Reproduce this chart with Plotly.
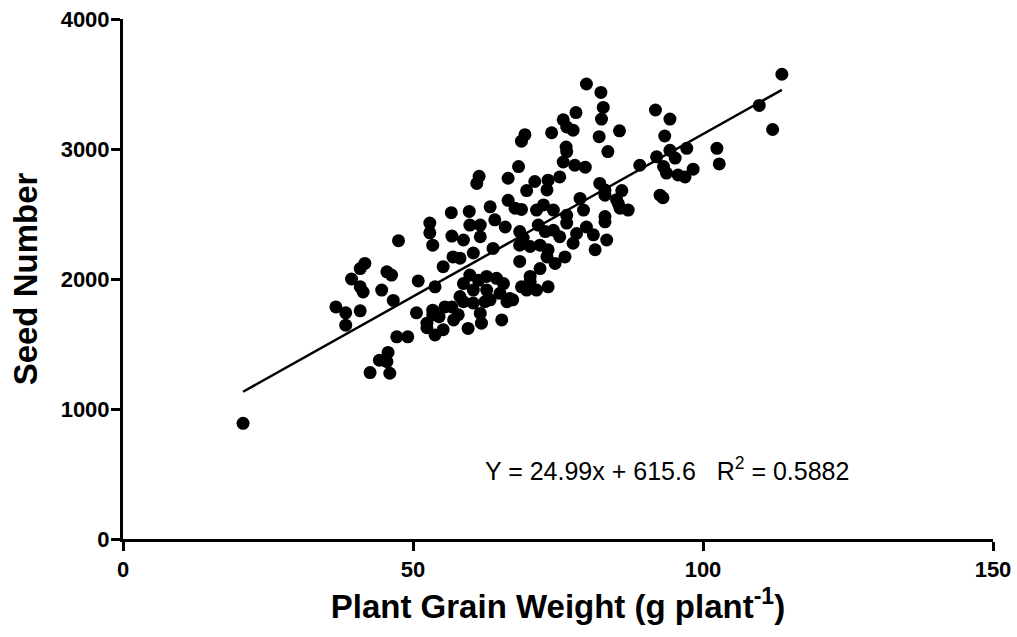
import plotly.graph_objects as go

# Plant grain weight (g plant^-1) and seed number
grain_weight = [
    20.7, 47.5, 52.9, 52.9, 53.4, 41.7, 40.9, 45.5, 46.3, 39.4,
    40.9, 41.4, 44.6, 50.9, 53.8, 46.6, 36.7, 38.4, 40.9, 38.4,
    50.6, 53.4, 52.4, 53.8, 47.2, 49.1, 45.7, 44.2, 45.5, 42.6,
    46.0, 53.4, 54.5, 55.2, 56.7, 57.8, 58.7, 59.5, 61.6, 61.8,
    62.4, 65.3, 66.2, 67.2, 57.0, 52.4, 76.5, 83.6, 68.2, 61.4,
    61.0, 66.4, 75.9, 77.9, 79.7, 75.3, 73.3, 71.0, 69.6, 73.1,
    82.2, 83.1, 85.1, 66.4, 67.6, 68.7, 71.3, 72.5, 74.2, 78.8,
    79.4, 76.5, 63.3, 56.6, 59.7, 56.7, 58.7, 59.8, 61.6, 61.6,
    64.1, 65.9, 63.8, 60.4, 56.9, 58.1, 55.2, 68.4, 69.0, 70.2,
    68.4, 68.4, 71.6, 72.8, 74.2, 75.3, 71.9, 73.3, 73.1, 74.5,
    76.2, 78.2, 79.9, 81.1, 83.1, 83.4, 81.4, 76.5, 77.6, 59.8,
    61.3, 62.7, 64.4, 65.6, 58.7, 60.4, 62.7, 65.0, 66.7, 58.1,
    60.4, 63.3, 68.7, 70.2, 71.9, 69.6, 71.3, 73.3, 70.2, 55.5,
    79.9, 82.4, 82.8, 82.5, 82.1, 85.6, 78.1, 75.9, 77.6, 76.5,
    73.9, 69.3, 68.7, 76.4, 91.8, 94.3, 93.4, 97.2, 102.4, 102.8,
    89.1, 92.0, 94.3, 95.2, 93.2, 93.7, 95.7, 96.9, 98.3, 92.6,
    83.1, 86.0, 85.4, 87.1, 83.1, 109.7, 112.0, 113.6, 85.7, 93.1,
]
seed_number = [
    890, 2295, 2430, 2355, 2260, 2120, 2080, 2055, 2030, 2000,
    1940, 1900, 1915, 1985, 1940, 1835, 1785, 1740, 1755, 1645,
    1740, 1725, 1625, 1570, 1555, 1555, 1435, 1375, 1365, 1280,
    1275, 1760, 1710, 1610, 1785, 1725, 1825, 1620, 1735, 1660,
    1825, 1685, 1825, 1840, 1685, 1660, 2980, 2980, 2865, 2790,
    2735, 2775, 2900, 2875, 2860, 2785, 2760, 2750, 2680, 2685,
    2735, 2685, 2610, 2605, 2545, 2535, 2530, 2570, 2530, 2620,
    2530, 2490, 2555, 2510, 2520, 2330, 2300, 2415, 2415, 2325,
    2455, 2400, 2235, 2200, 2170, 2160, 2095, 2365, 2315, 2250,
    2260, 2135, 2415, 2365, 2375, 2325, 2260, 2225, 2170, 2120,
    2170, 2350, 2400, 2340, 2440, 2300, 2225, 2430, 2275, 2030,
    1990, 2020, 2005, 1965, 1965, 1915, 1915, 1890, 1850, 1865,
    1815, 1840, 1940, 2020, 2080, 1915, 1915, 1940, 1980, 1785,
    3500, 3435, 3320, 3230, 3095, 3140, 3280, 3225, 3145, 3170,
    3125, 3110, 3060, 3015, 3300, 3230, 3100, 3005, 3005, 2885,
    2875, 2940, 2990, 2930, 2865, 2815, 2800, 2785, 2845, 2645,
    2645, 2680, 2580, 2530, 2480, 3335, 3150, 3575, 2545, 2625,
]

# Regression reported on the chart
slope = 24.99
intercept = 615.6
r_squared = 0.5882

x_ticks = [0, 50, 100, 150]
y_ticks = [0, 1000, 2000, 3000, 4000]

FONT = "Liberation Sans, Arial, sans-serif"

x_line = [min(grain_weight), max(grain_weight)]
y_line = [slope * v + intercept for v in x_line]

fig = go.Figure()
fig.add_trace(go.Scatter(
    x=grain_weight, y=seed_number, mode="markers",
    marker=dict(color="black", size=13, line=dict(width=0)),
    showlegend=False, hoverinfo="x+y",
))
fig.add_trace(go.Scatter(
    x=x_line, y=y_line, mode="lines",
    line=dict(color="black", width=2.5),
    showlegend=False, hoverinfo="skip",
))

eq_text = (f"Y = {slope:.2f}x + {intercept:.1f}\u00a0\u00a0\u00a0"
           f"R<sup>2</sup> = {r_squared:.4f}")
fig.add_annotation(
    x=93.8, y=540, xref="x", yref="y", text=eq_text, showarrow=False,
    font=dict(family=FONT, size=25, color="black"),
    xanchor="center", yanchor="middle",
)

axis_common = dict(
    showline=True, linecolor="black", linewidth=3,
    ticks="outside", ticklen=9, tickwidth=3, tickcolor="black",
    showgrid=False, zeroline=False,
    tickfont=dict(family=FONT, size=22, color="black", weight="bold"),
)

fig.update_xaxes(
    range=[0, 150], tickvals=x_ticks, ticktext=[str(v) for v in x_ticks],
    title=dict(text="Plant Grain Weight (g plant<sup>-1</sup>)",
               font=dict(family=FONT, size=33, color="black", weight="bold"),
               standoff=14),
    **axis_common,
)
fig.update_yaxes(
    range=[0, 4000], tickvals=y_ticks, ticktext=[str(v) for v in y_ticks],
    title=dict(text="Seed Number",
               font=dict(family=FONT, size=33, color="black", weight="bold"),
               standoff=14),
    ticklabelstandoff=-3,
    **axis_common,
)

fig.update_layout(
    width=1017, height=637,
    margin=dict(l=123, r=24, t=19, b=98, autoexpand=False),
    paper_bgcolor="white", plot_bgcolor="white",
    font=dict(family=FONT, color="black"),
)

fig.write_html(
    "out.html",
    config={"displayModeBar": False},
    post_script="document.body.style.margin='0';document.body.style.padding='0';",
)
